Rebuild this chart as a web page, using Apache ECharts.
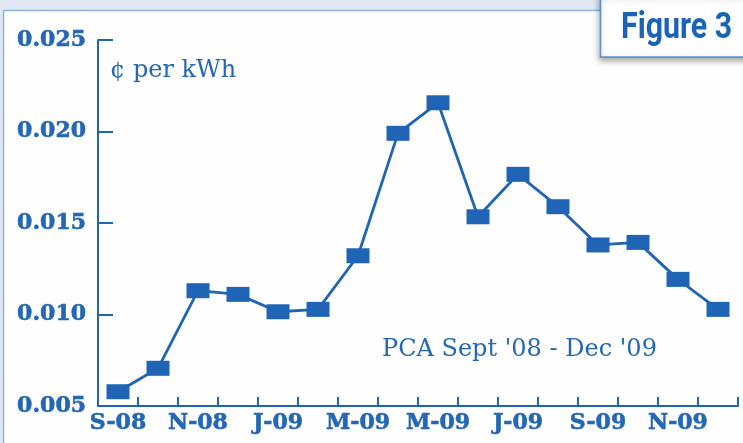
<!DOCTYPE html>
<html>
<head>
<meta charset="utf-8">
<script src="https://cdn.jsdelivr.net/npm/echarts@6/dist/echarts.min.js"></script>
<style>
html,body{margin:0;padding:0;background:#e1e7f4;}
#chart{width:743px;height:443px;}
</style>
</head>
<body>
<div id="chart"></div>
<script>
const months = ["S-08","O-08","N-08","D-08","J-09","F-09","M-09","A-09","M-09","J-09","J-09","A-09","S-09","O-09","N-09","D-09"];
const pcaValues = [0.00578,0.00706,0.0113,0.0111,0.01015,0.01028,0.01321,0.0199,0.02157,0.01534,0.01766,0.01589,0.0138,0.01394,0.01192,0.01028];
const yTicks = [0.005,0.010,0.015,0.020,0.025];
const unitLabel = "¢ per kWh";
const noteLabel = "PCA Sept '08 - Dec '09";
const figureLabel = "Figure 3";

const blue = '#1f64b5';
const textBlue = '#2467b4';

const chart = echarts.init(document.getElementById('chart'));
chart.setOption({
  animation: false,
  backgroundColor: '#e1e7f4',
  grid: {left: 98, right: 5, top: 40, bottom: 37, containLabel: false},
  xAxis: {
    type: 'category',
    data: months,
    boundaryGap: true,
    axisLine: {show: true, lineStyle: {color: blue, width: 2}},
    axisTick: {show: true, inside: true, length: 9, interval: 0, lineStyle: {color: blue, width: 2}},
    axisLabel: {
      interval: 1, margin: 6, color: textBlue,
      fontFamily: 'DejaVu Serif', fontWeight: 'bold', fontSize: 22,
      textBorderColor: textBlue, textBorderWidth: 0.6
    },
    splitLine: {show: false}
  },
  yAxis: {
    type: 'value',
    min: yTicks[0], max: yTicks[yTicks.length - 1], interval: 0.005,
    axisLine: {show: true, lineStyle: {color: blue, width: 2}},
    axisTick: {show: true, inside: true, length: 15, lineStyle: {color: blue, width: 2}},
    axisLabel: {
      margin: 12, color: textBlue,
      fontFamily: 'DejaVu Serif', fontWeight: 'bold', fontSize: 22,
      textBorderColor: textBlue, textBorderWidth: 0.6,
      formatter: v => v.toFixed(3)
    },
    splitLine: {show: false}
  },
  series: [{
    type: 'line',
    data: pcaValues,
    symbol: 'rect',
    symbolSize: [23, 15],
    itemStyle: {color: blue},
    lineStyle: {color: blue, width: 2.8},
    z: 5
  }],
  graphic: [
    {type: 'rect', z: -10, silent: true,
     shape: {x: 3.5, y: 10.5, width: 800, height: 500},
     style: {fill: '#fefefe', stroke: '#8fb2dd', lineWidth: 1.5}},
    {type: 'text', z: 10, x: 110, y: 71,
     style: {text: unitLabel, font: '24px "DejaVu Serif"', fill: textBlue, textVerticalAlign: 'middle'}},
    {type: 'text', z: 10, x: 382, y: 350,
     style: {text: noteLabel, font: '24px "DejaVu Serif"', fill: textBlue, textVerticalAlign: 'middle'}},
    {type: 'rect', z: 20,
     shape: {x: 600.5, y: -5, width: 160, height: 62},
     style: {fill: '#ffffff', stroke: '#5a90cf', lineWidth: 1.5,
             shadowBlur: 6, shadowColor: 'rgba(0,0,0,0.35)', shadowOffsetX: -1, shadowOffsetY: 3}},
    {type: 'text', z: 21, x: 621, y: 29, scaleX: 0.82,
     style: {text: figureLabel, font: 'bold 37px Roboto', fill: '#1a63b5', textVerticalAlign: 'middle'}}
  ]
});
</script>
</body>
</html>
